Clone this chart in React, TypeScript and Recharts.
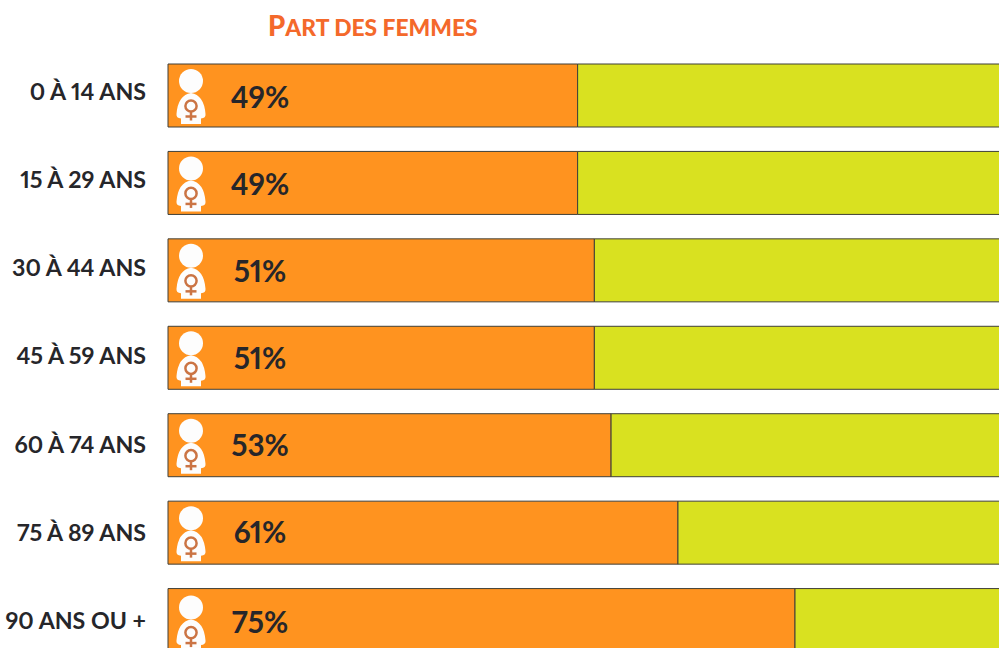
import React from "react";
import { BarChart, Bar, XAxis, YAxis, LabelList } from "recharts";

const ageGroups = ["0 À 14 ANS", "15 À 29 ANS", "30 À 44 ANS", "45 À 59 ANS", "60 À 74 ANS", "75 À 89 ANS", "90 ANS OU +"];
const womenShare = [49, 49, 51, 51, 53, 61, 75];
const menShare = [51, 51, 49, 49, 47, 39, 25];
const chartTitle = "Part des femmes";

const rows = ageGroups.map((age, i) => ({ age, women: womenShare[i], men: menShare[i] }));

const FONT = "Lato, sans-serif";
const INK = "#26262a";
const PNUM: React.CSSProperties = { fontVariantNumeric: "proportional-nums", fontFeatureSettings: '"pnum" 1' };

const AgeTick = (props: any) => {
  const { x, y, payload, index } = props;
  const lift = 5 - index * 0.83;
  return (
    <text x={x} y={y - lift} textAnchor="end" dominantBaseline="central" fontFamily={FONT} fontWeight={700} fontSize={23.2} fill={INK} style={PNUM}>
      {payload.value}
    </text>
  );
};

const WomanLabel = (props: any) => {
  const { x, y, height, value, index } = props;
  const last = index === ageGroups.length - 1;
  const ix = x + 23;
  const iy = y + 17 + (last ? 2 : 0);
  const cy = y + height / 2;
  const labelLift = last ? 0 : 0.5 + index * 0.4;
  return (
    <g>
      <circle cx={ix} cy={iy} r={12} fill="#fdfdfd" />
      <path
        d={`M${ix - 10} ${iy + 43} L${ix - 10} ${iy + 37.5} Q${ix - 15} ${iy + 37} ${ix - 14.5} ${iy + 33} Q${ix - 13} ${iy + 14} ${ix} ${iy + 12} Q${ix + 13} ${iy + 14} ${ix + 14.5} ${iy + 33} Q${ix + 15} ${iy + 37} ${ix + 10} ${iy + 37.5} L${ix + 10} ${iy + 43} Z`}
        fill="#fdfdfd"
      />
      <circle cx={ix} cy={iy + 25} r={5.6} fill="none" stroke="#cb7444" strokeWidth={2.5} />
      <line x1={ix} y1={iy + 30.5} x2={ix} y2={iy + 39.5} stroke="#cb7444" strokeWidth={2.5} />
      <line x1={ix - 5.5} y1={iy + 35.5} x2={ix + 5.5} y2={iy + 35.5} stroke="#cb7444" strokeWidth={2.5} />
      <text x={x + 92} y={cy + 1.5 - labelLift} textAnchor="middle" dominantBaseline="central" fontFamily={FONT} fontWeight={700} fontSize={29.6} fill={INK} style={PNUM}>
        {`${value}%`}
      </text>
    </g>
  );
};

export default function App() {
  return (
    <div style={{ position: "fixed", left: 0, top: 0, width: 999, height: 648, overflow: "hidden", background: "#fff" }}>
      <div style={{ position: "absolute", left: 268, top: 10, fontFamily: FONT, fontWeight: 900, fontSize: 27.5, color: "#f4692b", lineHeight: "32px", whiteSpace: "nowrap" }}>
        {chartTitle[0]}
        <span style={{ fontSize: 22.8 }}>{chartTitle.slice(1).toUpperCase()}</span>
      </div>
      <BarChart
        width={1004}
        height={664}
        data={rows}
        layout="vertical"
        barCategoryGap={0}
        margin={{ top: 52, right: 0, bottom: 0, left: 0 }}
        style={{ position: "absolute", left: 0, top: 0 }}
      >
        <XAxis type="number" domain={[0, 100]} hide />
        <YAxis type="category" dataKey="age" width={168} axisLine={false} tickLine={false} tickMargin={16} tickSize={6} tick={<AgeTick />} interval={0} />
        <Bar dataKey="women" stackId="share" barSize={63} fill="#ff931f" stroke="#3f3f38" strokeWidth={1} isAnimationActive={false}>
          <LabelList dataKey="women" content={<WomanLabel />} />
        </Bar>
        <Bar dataKey="men" stackId="share" barSize={63} fill="#d9e120" stroke="#3f3f38" strokeWidth={1} isAnimationActive={false} />
      </BarChart>
    </div>
  );
}
